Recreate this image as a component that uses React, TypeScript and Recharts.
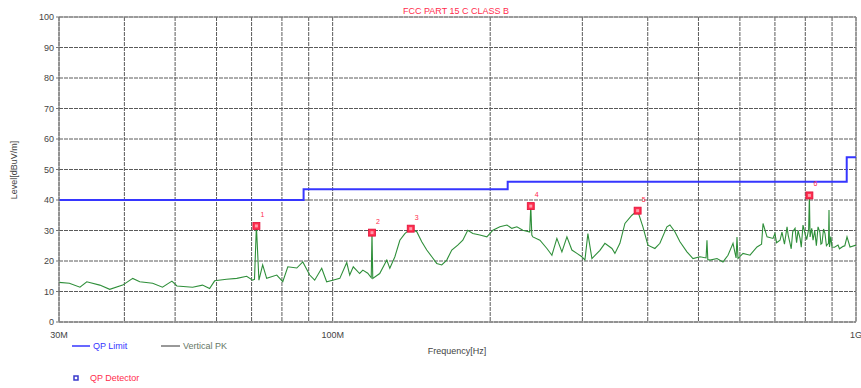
import React from 'react';
import {
  ComposedChart,
  Line,
  Scatter,
  XAxis,
  YAxis,
  CartesianGrid,
  ReferenceLine,
} from 'recharts';

// Measured peak trace (frequency in MHz, level in dBuV/m)
const traceFreqMHz = [
  30.0, 31.4, 32.9, 33.9, 35.9, 37.5, 39.7, 41.5, 42.8, 45.3, 47.3, 49.3, 50.4,
  54.0, 56.4, 58.2, 59.5, 62.7, 65.6, 68.5, 70.3, 70.9, 71.5, 72.3, 73.5, 74.8,
  78.2, 80.3, 82.1, 85.4, 87.7, 90.4, 92.4, 95.3, 97.4, 100.0, 103.2, 106.4,
  107.8, 109.5, 112.6, 114.2, 116.7, 118.5, 118.9, 119.3, 123.0, 126.9, 128.6,
  131.5, 134.4, 137.4, 141.0, 144.8, 148.0, 151.3, 154.7, 158.1, 161.6, 165.2,
  168.9, 173.4, 177.3, 181.2, 185.3, 191.1, 197.1, 202.4, 208.7, 215.3, 220.0,
  224.9, 230.9, 238.0, 239.1, 240.2, 241.3, 248.9, 256.7, 262.4, 268.2, 274.2,
  280.3, 286.5, 292.9, 299.4, 303.4, 307.4, 312.9, 324.1, 331.3, 341.7, 346.2,
  353.9, 361.8, 373.1, 382.6, 391.6, 400.3, 412.8, 422.0, 435.2, 441.0, 450.8,
  460.9, 475.3, 488.1, 503.4, 517.0, 519.1, 521.0, 526.0, 542.5, 557.0, 569.4,
  582.1, 590.0, 592.4, 595.0, 608.3, 627.3, 646.9, 660.0, 664.3, 676.1, 694.1,
  700.0, 705.0, 715.9, 722.0, 730.0, 738.3, 742.0, 748.1, 752.0, 757.0, 764.8,
  770.0, 775.0, 781.8, 786.0, 792.0, 799.2, 805.0, 812.0, 814.6, 817.0, 823.0,
  827.8, 834.0, 840.0, 846.2, 853.0, 857.0, 861.0, 867.0, 872.5, 878.0, 886.0,
  888.0, 890.0, 895.0, 899.8, 910.0, 923.9, 930.0, 945.0, 952.0, 961.2, 974.0,
  1000.0,
];
const traceLevel = [
  13.0, 12.7, 11.4, 13.2, 12.1, 10.7, 12.1, 14.3, 13.2, 12.7, 11.4, 13.4, 11.8,
  11.4, 12.1, 11.0, 13.5, 14.0, 14.3, 15.0, 13.7, 14.0, 31.5, 13.7, 18.7, 14.3,
  15.4, 13.2, 18.1, 17.7, 19.7, 15.4, 13.7, 17.6, 13.2, 13.7, 14.3, 19.5,
  15.4, 18.1, 15.9, 17.0, 16.0, 14.5, 29.3, 14.3, 15.9, 20.3, 17.6,
  21.4, 26.8, 29.0, 30.6, 29.6, 26.3, 23.6, 21.4, 19.2, 18.7, 20.3,
  23.6, 25.2, 26.8, 30.1, 29.0, 28.5, 27.9, 30.1, 31.2, 31.8, 30.7,
  31.2, 30.1, 29.5, 38.0, 28.5, 27.9, 26.8, 24.1, 21.9, 27.4, 23.0,
  27.9, 23.6, 22.5, 21.4, 20.3, 29.0, 20.8, 23.5, 25.8, 24.1, 22.5,
  25.8, 32.3, 35.0, 36.5, 31.2, 25.2, 24.1, 25.8, 31.2, 31.8, 29.6,
  26.3, 23.0, 20.8, 21.4, 21.0, 26.8, 20.5, 20.3, 20.8, 19.7, 21.9,
  25.8, 21.0, 27.9, 20.8, 22.5, 21.9, 24.6, 25.5, 32.3, 27.9, 27.4,
  29.0, 26.0, 26.8, 29.5, 25.5, 31.2, 28.5, 25.8, 24.0, 29.6, 30.7,
  26.0, 30.0, 27.4, 24.5, 31.8, 29.0, 27.0, 30.5, 41.5, 27.9, 30.7,
  26.8, 30.0, 25.0, 31.2, 29.5, 25.5, 25.8, 30.5, 29.0, 25.0, 25.8,
  36.7, 24.6, 28.0, 24.6, 24.5, 25.2, 24.0, 24.8, 25.0, 27.9, 24.6,
  25.2,
];

// QP limit steps (value holds until the next frequency)
const limitFreqMHz = [30, 88, 216, 960, 1000];
const limitLevel = [40, 43.5, 46, 54, 54];

// Quasi-peak detector readings
const markerFreqMHz = [71.5, 118.9, 141.0, 239.1, 382.6, 814.6];
const markerLevel = [31.5, 29.3, 30.6, 38.0, 36.5, 41.5];
const markerNo = ['1', '2', '3', '4', '5', '6'];

const xTicks = [30, 40, 50, 60, 70, 80, 90, 100, 200, 300, 400, 500, 600, 700, 800, 900, 1000];
const xTickLabels: Record<number, string> = { 30: '30M', 100: '100M', 1000: '1G' };
const yTicks = [0, 10, 20, 30, 40, 50, 60, 70, 80, 90, 100];

const traceData = traceFreqMHz.map((f, i) => ({ freq: f, level: traceLevel[i] }));
const limitData = limitFreqMHz.map((f, i) => ({ freq: f, limit: limitLevel[i] }));
const markerData = markerFreqMHz.map((f, i) => ({ freq: f, level: markerLevel[i], no: markerNo[i] }));

const FONT = '"Liberation Sans", Arial, sans-serif';
const RED = '#ff2d4d';
const BLUE = '#3636ff';

const MarkerShape = (props: any) => {
  const { cx, cy, payload } = props;
  if (cx == null || cy == null) return null;
  return (
    <g>
      <rect x={cx - 3.5} y={cy - 3.5} width={7} height={7} fill={RED} stroke="#e0103a" strokeWidth={0.8} />
      <rect x={cx - 1.5} y={cy - 1.5} width={3} height={3} fill="#ff9aaa" />
      <text x={cx + 6} y={cy - 9} fontSize={7} fill={RED} fontFamily={FONT} textAnchor="middle">
        {payload.no}
      </text>
    </g>
  );
};

export default function App() {
  return (
    <div style={{ position: 'absolute', left: 0, top: 0, width: 861, height: 388, background: '#fff', fontFamily: FONT }}>
      <ComposedChart width={861} height={388} margin={{ top: 17, right: 5, bottom: 0, left: 0 }}>
        <CartesianGrid stroke="#5a5a5a" strokeDasharray="4 1" strokeWidth={1} />
        <XAxis
          dataKey="freq"
          type="number"
          scale="log"
          domain={[30, 1000]}
          ticks={xTicks}
          allowDataOverflow
          tickFormatter={(v: number) => xTickLabels[v] ?? ''}
          interval={0}
          height={66}
          tickLine={false}
          tickMargin={4}
          axisLine={{ stroke: '#777' }}
          tick={{ fontSize: 9, fill: '#444', fontFamily: FONT }}
        />
        <YAxis
          type="number"
          domain={[0, 100]}
          ticks={yTicks}
          interval={0}
          width={59}
          tickSize={3}
          tickLine={{ stroke: '#777' }}
          axisLine={{ stroke: '#777' }}
          tick={{ fontSize: 9, fill: '#444', fontFamily: FONT }}
        />
        <ReferenceLine y={100} stroke="#888" strokeWidth={1} />
        <ReferenceLine x={1000} stroke="#888" strokeWidth={1} />
        <Line
          data={traceData}
          dataKey="level"
          type="linear"
          stroke="#2f8f3a"
          strokeWidth={1.1}
          dot={false}
          isAnimationActive={false}
        />
        <Line
          data={limitData}
          dataKey="limit"
          type="stepAfter"
          stroke={BLUE}
          strokeWidth={2}
          dot={false}
          isAnimationActive={false}
        />
        <Scatter data={markerData} dataKey="level" shape={<MarkerShape />} isAnimationActive={false} />
      </ComposedChart>
      <svg width={861} height={388} style={{ position: 'absolute', left: 0, top: 0, pointerEvents: 'none' }}>
        <text x={456} y={14} fontSize={9} fill={RED} textAnchor="middle" fontFamily={FONT}>
          FCC PART 15 C CLASS B
        </text>
        <text
          x={17}
          y={170}
          fontSize={9}
          fill="#444"
          textAnchor="middle"
          fontFamily={FONT}
          transform="rotate(-90 17 170)"
        >
          Level[dBuV/m]
        </text>
        <text x={457} y={354} fontSize={9} fill="#444" textAnchor="middle" fontFamily={FONT}>
          Frequency[Hz]
        </text>
        <line x1={72} y1={346} x2={90} y2={346} stroke={BLUE} strokeWidth={1.5} />
        <text x={93} y={349} fontSize={9} fill={BLUE} fontFamily={FONT}>QP Limit</text>
        <line x1={161} y1={346} x2={180} y2={346} stroke="#333" strokeWidth={1} />
        <text x={183} y={349} fontSize={9} fill="#667766" fontFamily={FONT}>Vertical PK</text>
        <rect x={74} y={376} width={4} height={4} fill="none" stroke="#3a3acc" strokeWidth={1.5} />
        <text x={90} y={381} fontSize={9} fill={RED} fontFamily={FONT}>QP Detector</text>
      </svg>
    </div>
  );
}
